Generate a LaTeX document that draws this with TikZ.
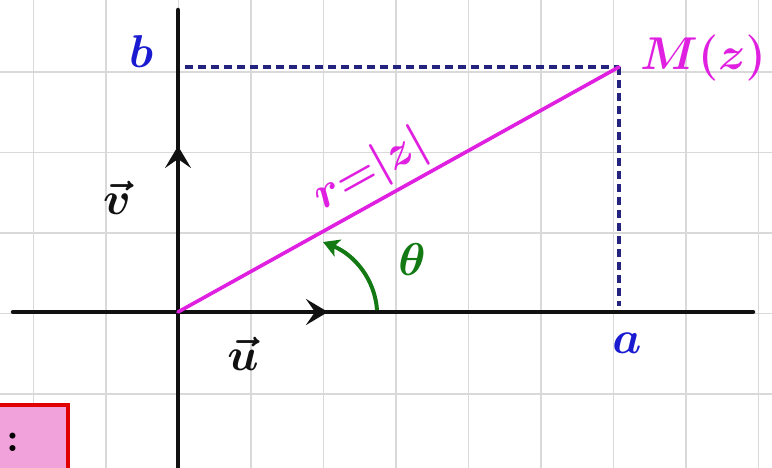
\documentclass[tikz,border=0pt]{standalone}
\usepackage{xcolor}
\usepackage{tikz}
\usetikzlibrary{arrows.meta,positioning,calc}
\definecolor{ink}{HTML}{111111}
\definecolor{gridgray}{HTML}{D9D9D9}
\definecolor{penblue}{HTML}{1A1AD0}
\definecolor{dashnavy}{HTML}{24247E}
\definecolor{penmagenta}{HTML}{E020E0}
\definecolor{pengreen}{HTML}{137A13}
\definecolor{notepink}{HTML}{F2A2DA}
\definecolor{notered}{HTML}{E00000}

\begin{document}
\begin{tikzpicture}[
  x=1pt, y=-1pt,
  font=\Huge\boldmath,
  tag/.style={scale=1.85},
  gridline/.style={draw=gridgray, line width=1.8pt},
  axis/.style={draw=ink, line width=4.5pt, line cap=round},
  unitvec/.style={axis, -{Stealth[length=22pt,width=26pt,inset=9pt]}},
  dashline/.style={draw=dashnavy, line width=3.2pt, dash pattern=on 8pt off 5pt},
  radius line/.style={draw=penmagenta, line width=3.6pt, line cap=round},
  anglearrow/.style={draw=pengreen, line width=4pt, -{Stealth[length=16pt,width=18pt,inset=4pt]}},
  notebox/.style={draw=notered, line width=4pt, fill=notepink, minimum width=80pt, minimum height=80pt}
]
  \useasboundingbox (0,0) rectangle (772,468);
  \clip (0,0) rectangle (772,468);

  % grid
  \foreach \gx in {0,...,10}
    \draw[gridline] ({33.5+72.5*\gx},0) -- ({33.5+72.5*\gx},468);
  \foreach \gy in {0,...,4}
    \draw[gridline] (0,{72+80.5*\gy}) -- (772,{72+80.5*\gy});

  \coordinate (O) at (178,312);
  \coordinate (xstart) at (13,312);
  \coordinate (xend) at (753,312);
  \coordinate (ystart) at (178,10);
  \coordinate (yend) at (178,480);
  \coordinate (U) at (328,312);
  \coordinate (V) at (178,146);
  \coordinate (M) at (619,67);
  \coordinate (bfoot) at (185,67);
  \coordinate (afoot) at (619,306);
  \coordinate (arcstart) at (377,310);
  \coordinate (arcend) at (323,242);

  % note box cut by the frame
  \node[notebox, anchor=north east] (note) at (70,403) {};
  \node[tag, scale=0.9] (colon) at (13,442) {\bfseries :};

  % axes and unit vectors
  \draw[axis] (xstart) -- (xend);
  \draw[axis] (ystart) -- (yend);
  \draw[unitvec] (O) -- (U);
  \draw[unitvec] (O) -- (V);

  % projections
  \draw[dashline] (bfoot) -- (M);
  \draw[dashline] (M) -- (afoot);

  % modulus and argument
  \draw[radius line] (O) -- node[tag, pos=0.47, sloped, above=-3pt, text=penmagenta, inner xsep=0pt] (rlabel) {$r{=}|z|$} (M);
  \draw[anglearrow] (arcstart) .. controls (375,280) and (355,255) .. (arcend);

  \node[tag, text=penblue] (blabel) at (141,52) {$b$};
  \node[tag, text=penblue] (alabel) at (627,343) {$a$};
  \node[tag, text=penmagenta, anchor=west, inner xsep=1pt] (mlabel) at (638,58) {$M(z)$};
  \node[tag, text=pengreen] (thetalabel) at (412,260) {$\theta$};
  \node[tag, text=ink] (ulabel) at (243,354) {$\vec{u}$};
  \node[tag, text=ink] (vlabel) at (117,198) {$\vec{v}$};
\end{tikzpicture}
\end{document}
